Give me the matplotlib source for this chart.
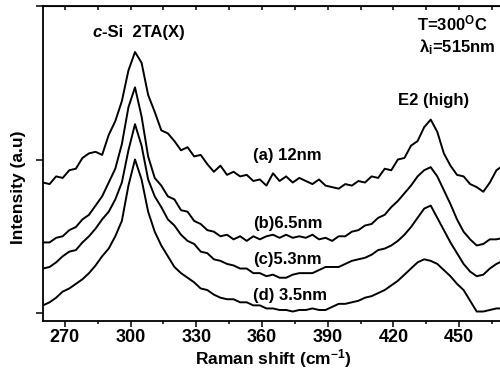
import numpy as np
import matplotlib
matplotlib.use("Agg")
import matplotlib.pyplot as plt
from matplotlib.ticker import MultipleLocator

plt.rcParams['font.family'] = ['Liberation Sans', 'DejaVu Sans']
plt.rcParams['font.weight'] = 'bold'
plt.rcParams['mathtext.fontset'] = 'custom'
plt.rcParams['mathtext.rm'] = 'Liberation Sans:bold'
plt.rcParams['mathtext.bf'] = 'Liberation Sans:bold'
plt.rcParams['mathtext.it'] = 'Liberation Sans:bold:italic'

# Raman shift grid (cm-1), values every 3 cm-1
shift = np.arange(260, 471, 3)

# (a) 12nm
spec_a = [0.85, 0.84, 0.89, 0.88, 0.93, 0.94, 1.01, 1.04, 1.05, 1.03,
          1.16, 1.25, 1.38, 1.58, 1.70, 1.63, 1.42, 1.31, 1.19, 1.17,
          1.12, 1.06, 1.08, 1.02, 1.03, 0.97, 0.92, 0.96, 0.90, 0.92,
          0.89, 0.90, 0.86, 0.87, 0.83, 0.91, 0.86, 0.89, 0.85, 0.88,
          0.86, 0.84, 0.87, 0.83, 0.82, 0.81, 0.84, 0.83, 0.86, 0.85,
          0.89, 0.88, 0.94, 0.93, 1.00, 1.01, 1.09, 1.12, 1.21, 1.26,
          1.18, 1.04, 0.96, 0.90, 0.89, 0.84, 0.82, 0.79, 0.85, 0.93,
          0.96]
# (b) 6.5nm
spec_b = [0.46, 0.46, 0.49, 0.50, 0.54, 0.56, 0.61, 0.64, 0.70, 0.76,
          0.85, 0.94, 1.10, 1.34, 1.47, 1.28, 1.02, 0.88, 0.83, 0.76,
          0.74, 0.67, 0.66, 0.60, 0.58, 0.54, 0.53, 0.50, 0.51, 0.48,
          0.50, 0.47, 0.50, 0.48, 0.50, 0.51, 0.49, 0.51, 0.49, 0.50,
          0.49, 0.51, 0.48, 0.49, 0.47, 0.50, 0.50, 0.53, 0.54, 0.57,
          0.58, 0.62, 0.64, 0.69, 0.73, 0.78, 0.83, 0.89, 0.93, 0.95,
          0.89, 0.80, 0.71, 0.61, 0.53, 0.48, 0.44, 0.45, 0.48, 0.48,
          0.49]
# (c) 5.3nm
spec_c = [0.29, 0.30, 0.33, 0.37, 0.40, 0.41, 0.46, 0.50, 0.55, 0.61,
          0.66, 0.74, 0.85, 1.06, 1.23, 1.09, 0.87, 0.76, 0.69, 0.61,
          0.57, 0.51, 0.47, 0.45, 0.40, 0.39, 0.35, 0.34, 0.32, 0.31,
          0.29, 0.29, 0.26, 0.26, 0.24, 0.25, 0.23, 0.23, 0.25, 0.26,
          0.26, 0.26, 0.28, 0.30, 0.30, 0.30, 0.32, 0.34, 0.35, 0.36,
          0.38, 0.41, 0.42, 0.44, 0.47, 0.51, 0.56, 0.62, 0.68, 0.70,
          0.62, 0.54, 0.46, 0.39, 0.32, 0.27, 0.24, 0.25, 0.29, 0.32,
          0.34]
# (d) 3.5nm
spec_d = [0.05, 0.07, 0.10, 0.14, 0.16, 0.19, 0.22, 0.26, 0.31, 0.37,
          0.42, 0.50, 0.60, 0.83, 1.00, 0.87, 0.66, 0.53, 0.44, 0.37,
          0.30, 0.26, 0.23, 0.20, 0.16, 0.15, 0.12, 0.10, 0.09, 0.09,
          0.07, 0.07, 0.05, 0.05, 0.03, 0.03, 0.02, 0.02, 0.01, 0.02,
          0.02, 0.03, 0.02, 0.02, 0.04, 0.06, 0.06, 0.07, 0.08, 0.10,
          0.11, 0.13, 0.15, 0.18, 0.21, 0.25, 0.29, 0.33, 0.35, 0.34,
          0.32, 0.28, 0.24, 0.19, 0.15, 0.08, 0.01, 0.01, 0.02, 0.03,
          0.03]

labels = ["(a) 12nm", "(b)6.5nm", "(c)5.3nm", "(d) 3.5nm"]
label_y = [0.997, 0.554, 0.319, 0.085]

fig = plt.figure(figsize=(5, 3.72), dpi=100)
ax = fig.add_axes([0.086, 0.137, 0.92, 0.847])

for spec in [spec_a, spec_b, spec_c, spec_d]:
    ax.plot(shift, spec, color='black', lw=1.4)

ax.set_xlim(260, 470)
ax.set_ylim(-0.052, 2.0)
ax.xaxis.set_major_locator(MultipleLocator(30))
ax.xaxis.set_minor_locator(MultipleLocator(15))
ax.set_yticks([0, 1, 2])
ax.set_yticklabels([])
ax.tick_params(axis='x', which='major', direction='out', length=4, width=1.1,
               labelsize=13, pad=2)
ax.tick_params(axis='x', which='minor', direction='out', length=2.5, width=1.1)
ax.tick_params(axis='y', direction='out', length=5, width=1.1)
for s in ax.spines.values():
    s.set_linewidth(1.3)

top = ax.secondary_xaxis('top')
top.xaxis.set_major_locator(MultipleLocator(15))
top.tick_params(direction='in', length=3, width=1.1, labeltop=False)

for lab, yy in zip(labels, label_y):
    ax.text(355.9, yy, lab, fontsize=12, ha='left', va='baseline')

t1 = ax.text(282.8, 1.80, "c", fontsize=12, style='italic', ha='left', va='baseline')
ax.annotate("-Si  2TA(X)", xy=(1, 0), xycoords=t1, fontsize=12,
            ha='left', va='bottom')
ax.text(438.2, 1.355, "E2 (high)", fontsize=12, ha='center', va='baseline')
ax.text(463.2, 1.844, r"T=300$^{\mathrm{O}}$C", fontsize=12, ha='right', va='baseline')
ax.text(466.4, 1.70, r"λ$_{\mathrm{i}}$=515nm", fontsize=12, ha='right', va='baseline')

fig.text(273 / 500, 1 - 359 / 372, r"Raman shift (cm$^{\mathrm{-1}}$)",
         fontsize=12.5, ha='center', va='center')
fig.text(19 / 500, 1 - 187 / 372, "Intensity (a.u)", fontsize=12.5,
         rotation=90, ha='center', va='center')

fig.savefig("out.png", dpi=100)
